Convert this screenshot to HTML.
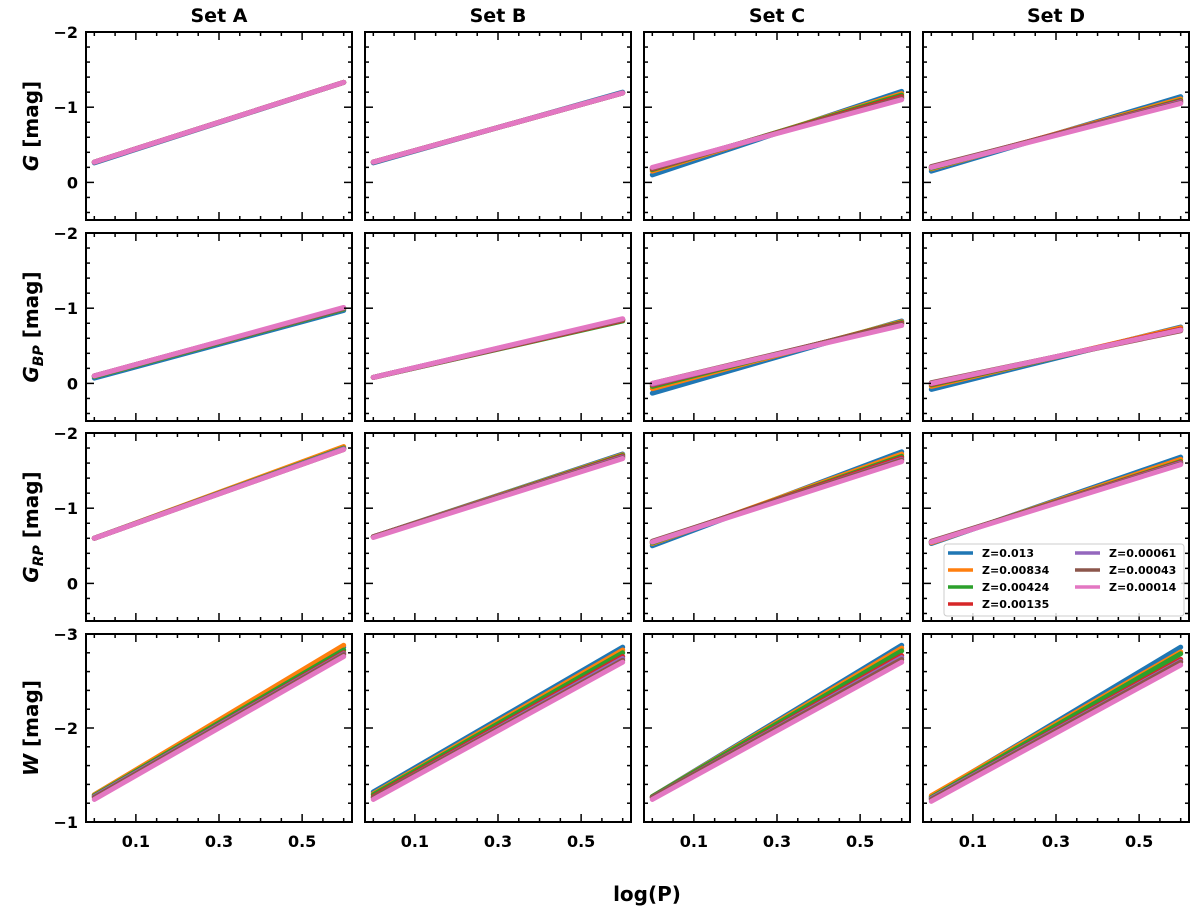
<!DOCTYPE html>
<html><head><meta charset="utf-8"><style>
body{margin:0;background:#fff;}
svg{display:block;font-family:"DejaVu Sans","Liberation Sans",sans-serif;font-weight:bold;}
</style></head><body>
<svg id="fig" width="1200" height="913" viewBox="0 0 1200 913"></svg>
<script>
const sets = ["Set A","Set B","Set C","Set D"];
const bands = ["G","GBP","GRP","W"];
const zLabels = ["Z=0.013","Z=0.00834","Z=0.00424","Z=0.00135","Z=0.00061","Z=0.00043","Z=0.00014"];
const colors = ["#1f77b4","#ff7f0e","#2ca02c","#d62728","#9467bd","#8c564b","#e377c2"];
const logPStart = 0.0;
const logPEnd = 0.6;
const magStart = [
 [[-0.26,-0.27,-0.27,-0.27,-0.27,-0.27,-0.27],[-0.26,-0.27,-0.27,-0.27,-0.27,-0.27,-0.27],[-0.10,-0.15,-0.17,-0.18,-0.19,-0.19,-0.20],[-0.15,-0.18,-0.19,-0.20,-0.20,-0.21,-0.20]],
 [[-0.07,-0.09,-0.09,-0.10,-0.10,-0.10,-0.10],[-0.08,-0.08,-0.08,-0.08,-0.08,-0.08,-0.08],[0.13,0.07,0.04,0.02,0.01,0.00,0.00],[0.08,0.04,0.02,0.01,0.00,-0.01,0.00]],
 [[-0.60,-0.60,-0.60,-0.60,-0.60,-0.60,-0.60],[-0.62,-0.62,-0.62,-0.62,-0.62,-0.62,-0.61],[-0.50,-0.53,-0.54,-0.55,-0.55,-0.56,-0.55],[-0.53,-0.54,-0.55,-0.55,-0.55,-0.56,-0.55]],
 [[-1.29,-1.29,-1.28,-1.27,-1.27,-1.26,-1.24],[-1.32,-1.30,-1.29,-1.27,-1.26,-1.26,-1.24],[-1.27,-1.27,-1.27,-1.26,-1.26,-1.26,-1.24],[-1.27,-1.28,-1.26,-1.25,-1.25,-1.24,-1.22]]
];
const magEnd = [
 [[-1.33,-1.33,-1.33,-1.33,-1.33,-1.33,-1.33],[-1.20,-1.19,-1.19,-1.19,-1.19,-1.19,-1.19],[-1.21,-1.18,-1.16,-1.14,-1.12,-1.12,-1.10],[-1.14,-1.11,-1.09,-1.08,-1.07,-1.06,-1.05]],
 [[-0.97,-0.99,-0.99,-1.00,-1.00,-1.00,-1.01],[-0.85,-0.84,-0.83,-0.84,-0.85,-0.85,-0.86],[-0.83,-0.82,-0.81,-0.80,-0.79,-0.79,-0.77],[-0.75,-0.74,-0.72,-0.72,-0.71,-0.70,-0.71]],
 [[-1.80,-1.82,-1.80,-1.79,-1.79,-1.78,-1.78],[-1.72,-1.71,-1.70,-1.69,-1.68,-1.67,-1.66],[-1.75,-1.72,-1.69,-1.67,-1.65,-1.64,-1.62],[-1.68,-1.65,-1.62,-1.61,-1.60,-1.59,-1.58]],
 [[-2.86,-2.88,-2.83,-2.80,-2.79,-2.78,-2.76],[-2.86,-2.83,-2.80,-2.76,-2.74,-2.72,-2.70],[-2.88,-2.85,-2.82,-2.77,-2.75,-2.73,-2.70],[-2.86,-2.81,-2.79,-2.73,-2.71,-2.70,-2.67]]
];
const yRanges = [[-2,0.5],[-2,0.5],[-2,0.5],[-3,-1]];
const yTicks = [[-2,-1,0],[-2,-1,0],[-2,-1,0],[-3,-2,-1]];
const xTicks = [0.1,0.3,0.5];
const xTickLabels = ["0.1","0.3","0.5"];

const NS="http://www.w3.org/2000/svg";
const svg=document.getElementById('fig');
function mk(tag,attrs,parent){const e=document.createElementNS(NS,tag);for(const k in attrs)e.setAttribute(k,attrs[k]);(parent||svg).appendChild(e);return e;}
const colX=[86,365,644,923], W=266;
const rowY=[32,233,433,634], H=188;
const xMin=-0.02,xMax=0.62;

for(let r=0;r<4;r++){for(let c=0;c<4;c++){
  const x0=colX[c],y0=rowY[r];
  const [yt,yb]=yRanges[r];
  const sx=v=>x0+(v-xMin)/(xMax-xMin)*W;
  const sy=v=>y0+(v-yt)/(yb-yt)*H;
  const g=mk('g',{});
  
  
  for(let s=0;s<7;s++){
    const ln=mk('line',{x1:sx(logPStart),y1:sy(magStart[r][c][s]),x2:sx(logPEnd),y2:sy(magEnd[r][c][s]),stroke:colors[s],'stroke-width':5,'stroke-linecap':'round'},g);
    
    
  }
  for(let k=0;k<=12;k++){const v=k*0.05;const X=sx(v);const maj=xTicks.some(t=>Math.abs(t-v)<1e-6);const L=maj?8:4;
    mk('line',{x1:X,y1:y0+H,x2:X,y2:y0+H-L,stroke:'#000','stroke-width':1.5},g);
    mk('line',{x1:X,y1:y0,x2:X,y2:y0+L,stroke:'#000','stroke-width':1.5},g);}
  const n=Math.floor((yb-yt)/0.2+1e-6);
  for(let k=0;k<=n;k++){const v=yt+k*0.2;const Y=sy(v);const maj=Math.abs(v-Math.round(v))<1e-6;const L=maj?8:4;
    mk('line',{x1:x0,y1:Y,x2:x0+L,y2:Y,stroke:'#000','stroke-width':1.5},g);
    mk('line',{x1:x0+W,y1:Y,x2:x0+W-L,y2:Y,stroke:'#000','stroke-width':1.5},g);}
  mk('rect',{x:x0,y:y0,width:W,height:H,fill:'none',stroke:'#000','stroke-width':2},g);
  if(c===0){yTicks[r].forEach(v=>{const t=mk('text',{x:x0-8,y:sy(v)+6,'text-anchor':'end','font-size':16},g);t.textContent=(v<0?'\u2212':'')+Math.abs(v);});}
  if(r===3){xTicks.forEach((v,i)=>{const t=mk('text',{x:sx(v),y:y0+H+25,'text-anchor':'middle','font-size':16},g);t.textContent=xTickLabels[i];});}
  if(r===0){const t=mk('text',{x:x0+W/2,y:22,'text-anchor':'middle','font-size':19},g);t.textContent=sets[c];}
}}
</script>
<div style="position:absolute;left:0;top:0;width:1200px;height:913px;pointer-events:none;">
<svg width="1200" height="913" style="position:absolute;left:0;top:0;">
  <text transform="translate(38,126) rotate(-90)" text-anchor="middle" font-size="20"><tspan font-style="italic">G</tspan> [mag]</text>
  <text transform="translate(38,327) rotate(-90)" text-anchor="middle" font-size="20"><tspan font-style="italic">G</tspan><tspan font-style="italic" font-size="14" dy="5">BP</tspan><tspan dy="-5"> [mag]</tspan></text>
  <text transform="translate(38,527) rotate(-90)" text-anchor="middle" font-size="20"><tspan font-style="italic">G</tspan><tspan font-style="italic" font-size="14" dy="5">RP</tspan><tspan dy="-5"> [mag]</tspan></text>
  <text transform="translate(38,728) rotate(-90)" text-anchor="middle" font-size="20"><tspan font-style="italic">W</tspan> [mag]</text>
  <text x="647" y="901" text-anchor="middle" font-size="20">log(P)</text>
  <g font-size="11">
    <rect x="944" y="544" width="240" height="72" rx="3" fill="#fff" fill-opacity="0.85" stroke="#ccc"/>
    <line x1="948" y1="553" x2="973" y2="553" stroke="#1f77b4" stroke-width="3.5"/><text x="982" y="557">Z=0.013</text>
    <line x1="948" y1="570" x2="973" y2="570" stroke="#ff7f0e" stroke-width="3.5"/><text x="982" y="574">Z=0.00834</text>
    <line x1="948" y1="587" x2="973" y2="587" stroke="#2ca02c" stroke-width="3.5"/><text x="982" y="591">Z=0.00424</text>
    <line x1="948" y1="604" x2="973" y2="604" stroke="#d62728" stroke-width="3.5"/><text x="982" y="608">Z=0.00135</text>
    <line x1="1075" y1="553" x2="1100" y2="553" stroke="#9467bd" stroke-width="3.5"/><text x="1109" y="557">Z=0.00061</text>
    <line x1="1075" y1="570" x2="1100" y2="570" stroke="#8c564b" stroke-width="3.5"/><text x="1109" y="574">Z=0.00043</text>
    <line x1="1075" y1="587" x2="1100" y2="587" stroke="#e377c2" stroke-width="3.5"/><text x="1109" y="591">Z=0.00014</text>
  </g>
</svg>
</div>
</body></html>
